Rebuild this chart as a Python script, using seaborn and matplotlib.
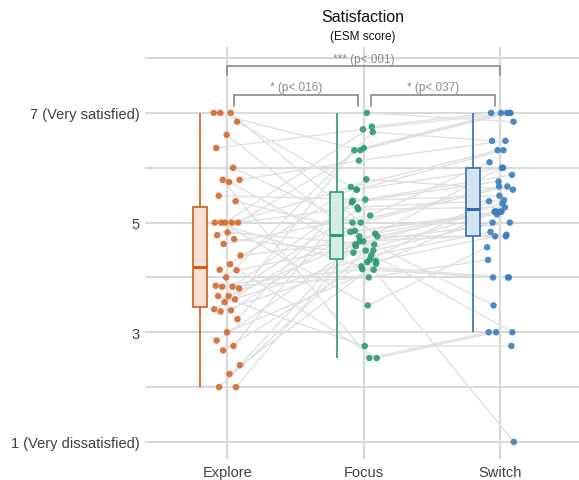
import numpy as np
import pandas as pd
import matplotlib
matplotlib.use("Agg")
import matplotlib.pyplot as plt
import seaborn as sns

# Per-participant mean satisfaction (ESM) in each condition, same participant order
conditions = ["Explore", "Focus", "Switch"]
explore = [7.0, 7.0, 7.0, 6.84, 6.6, 6.36, 6.0, 5.78, 5.78, 5.74, 5.49, 5.39, 5.0, 5.0,
           5.0, 5.0, 5.0, 4.82, 4.77, 4.7, 4.61, 4.4, 4.24, 4.14, 4.13, 4.0, 3.85, 3.83,
           3.83, 3.8, 3.66, 3.66, 3.6, 3.55, 3.42, 3.40, 3.38, 3.24, 3.0, 2.85, 2.75,
           2.67, 2.4, 2.24, 2.0, 2.0]
focus = [6.32, 4.75, 7.0, 5.6, 4.49, 6.7, 5.0, 2.53, 6.13, 4.3, 5.42, 4.85, 6.75, 4.2,
         5.65, 3.49, 5.28, 4.6, 6.36, 4.45, 5.13, 4.66, 2.53, 5.79, 4.57, 6.65, 4.15,
         5.37, 4.0, 5.24, 4.8, 2.75, 6.32, 4.4, 5.0, 4.83, 4.28, 5.6, 4.14, 4.66, 5.4,
         4.32, 4.75, 4.25, 4.49, 4.6]
switch = [7.0, 5.2, 6.84, 6.0, 5.0, 7.0, 5.66, 3.0, 6.49, 4.75, 5.87, 5.2, 7.0, 4.0,
          6.32, 4.55, 5.41, 3.49, 7.0, 5.2, 6.1, 4.78, 3.0, 5.6, 5.35, 6.49, 4.0, 5.75,
          4.32, 5.28, 5.2, 2.75, 7.0, 4.83, 5.66, 5.15, 1.0, 6.32, 4.0, 5.0, 5.49, 5.39,
          4.75, 5.2, 3.0, 6.0]

y_ticks = [1, 3, 5, 7]
y_tick_labels = ["1 (Very dissatisfied)", "3", "5", "7 (Very satisfied)"]

# Pairwise comparisons: (left condition, right condition, label)
comparisons = [("Explore", "Switch", "*** (p<.001)"),
               ("Explore", "Focus", "* (p<.016)"),
               ("Focus", "Switch", "* (p<.037)")]

point_colors = {"Explore": "#d4692e", "Focus": "#2e9b70", "Switch": "#3b7fc0"}
line_colors = {"Explore": "#cf5c17", "Focus": "#2c9a72", "Switch": "#2e6eac"}
fill_colors = {"Explore": "#f6e1d6", "Focus": "#d7ece3", "Switch": "#d6e4f1"}

# Long-format table with a deterministic horizontal spread for the points
series = {"Explore": explore, "Focus": focus, "Switch": switch}
rows = []
for ci, cond in enumerate(conditions):
    for pid, val in enumerate(series[cond]):
        offset = ((pid * 0.6180339887 + ci * 0.37) % 1.0 - 0.5) * 0.2
        rows.append({"pid": pid, "cond": cond, "score": val,
                     "xpos": ci + offset, "boxpos": ci - 0.2})
df = pd.DataFrame(rows)

sns.set_theme(style="white")
plt.rcParams["font.family"] = ["Liberation Sans", "DejaVu Sans"]

fig = plt.figure(figsize=(5.79, 4.81), dpi=100)
ax = fig.add_axes([0.2504, 0.0437, 0.7496, 0.8563])

# Background grid
for y in [1, 2, 3, 4, 5, 6, 7, 8]:
    ax.axhline(y, color="#d6d6d6", lw=1.3, zorder=0)
for ci in range(len(conditions)):
    ax.axvline(ci, color="#d9d9d9", lw=1.6, zorder=0)

# Paired lines per participant
sns.lineplot(data=df, x="xpos", y="score", units="pid", estimator=None, sort=False,
             color="#e0e0e0", lw=1.0, ax=ax, zorder=1, legend=False)

# Box plots, shifted left of each condition
for cond in conditions:
    sub = df[df["cond"] == cond]
    sns.boxplot(x=sub["boxpos"], y=sub["score"], native_scale=True, width=0.1,
                color=fill_colors[cond], linecolor=line_colors[cond], linewidth=1.2,
                showfliers=False, showcaps=False, saturation=1,
                medianprops=dict(linewidth=2.2, color=line_colors[cond]),
                ax=ax, zorder=2)
for p in ax.patches:
    p.set_facecolor(p.get_facecolor()[:3] + (1.0,))

# Individual points
for cond in conditions:
    sub = df[df["cond"] == cond]
    sns.scatterplot(x=sub["xpos"], y=sub["score"], color=point_colors[cond], s=22,
                    edgecolor="none", alpha=0.9, ax=ax, zorder=3, legend=False)

# Significance brackets
brackets = {("Explore", "Switch"): (0.0, 2.0, 7.86, 7.69, 7.985),
            ("Explore", "Focus"): (0.05, 0.955, 7.32, 7.13, 7.47),
            ("Focus", "Switch"): (1.05, 1.96, 7.32, 7.13, 7.47)}
for a, b, label in comparisons:
    x0, x1, ytop, ybot, ytxt = brackets[(a, b)]
    ax.plot([x0, x0, x1, x1], [ybot, ytop, ytop, ybot], color="#8a8a8a", lw=1.2,
            zorder=4, solid_joinstyle="miter")
    ax.text((x0 + x1) / 2, ytxt, label, ha="center", va="center", fontsize=8.5,
            color="#8a8a8a", zorder=4)

ax.set_xlim(-0.604, 2.575)
ax.set_ylim(0.69, 8.2)
ax.set_xticks(range(len(conditions)))
ax.set_xticklabels(conditions, fontsize=10.5, color="#3f3f3f")
ax.set_yticks(y_ticks)
ax.set_yticklabels(y_tick_labels, fontsize=10.5, color="#3f3f3f")
ax.tick_params(axis="both", length=0, pad=4)
ax.set_xlabel("")
ax.set_ylabel("")
ax.grid(False)
for s in ax.spines.values():
    s.set_visible(False)

fig.text(0.626, 1 - 17 / 481, "Satisfaction", ha="center", va="center",
         fontsize=11.5, color="#111111")
fig.text(0.626, 1 - 37 / 481, "(ESM score)", ha="center", va="center",
         fontsize=8.5, color="#111111")

fig.savefig("out.png", dpi=100)
